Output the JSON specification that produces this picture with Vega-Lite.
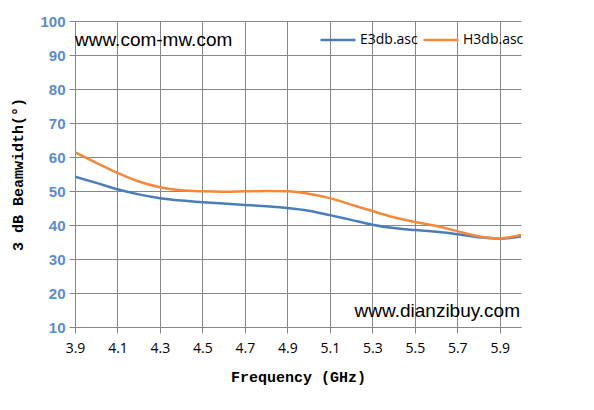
{
  "$schema": "https://vega.github.io/schema/vega-lite/v6.json",
  "width": 446,
  "height": 306,
  "autosize": {"type": "none"},
  "padding": {"left": 75, "top": 21, "right": 73, "bottom": 83},
  "background": "white",
  "config": {
    "view": {"stroke": null},
    "axis": {"gridColor": "#868686", "gridOpacity": 1, "gridWidth": 1, "domainColor": "#868686", "tickColor": "#868686", "labelOverlap": false, "labelFlush": false}
  },
  "encoding": {
    "x": {
      "field": "f", "type": "quantitative",
      "scale": {"domain": [3.9, 6.0], "nice": false, "zero": false},
      "axis": {
        "values": [3.9, 4.1, 4.3, 4.5, 4.7, 4.9, 5.1, 5.3, 5.5, 5.7, 5.9],
        "format": ".1f",
        "title": "Frequency (GHz)",
        "titleFont": "Liberation Mono", "titleFontSize": 15, "titleFontWeight": "bold", "titleColor": "#000000",
        "titlePadding": 14,
        "labelFont": "Open Sans", "labelFontSize": 14, "labelColor": "#000000", "labelPadding": 8,
        "tickSize": 6, "domain": true, "grid": true
      }
    },
    "y": {
      "field": "v", "type": "quantitative",
      "scale": {"domain": [10, 100], "nice": false, "zero": false},
      "axis": {
        "values": [10, 20, 30, 40, 50, 60, 70, 80, 90, 100],
        "title": "3 dB Beamwidth(°)",
        "titleFont": "Liberation Mono", "titleFontSize": 15, "titleFontWeight": "bold", "titleColor": "#000000",
        "titlePadding": 14,
        "labelFont": "Liberation Sans", "labelFontSize": 15, "labelFontWeight": "bold", "labelColor": "#5b8bd0", "labelPadding": 4,
        "tickSize": 6, "domain": false, "grid": true
      }
    }
  },
  "layer": [
    {
      "data": {"values": [
        {"f": 3.9, "s": "E3db.asc", "v": 54.2},
        {"f": 4.0, "s": "E3db.asc", "v": 52.4},
        {"f": 4.1, "s": "E3db.asc", "v": 50.5},
        {"f": 4.2, "s": "E3db.asc", "v": 49.0},
        {"f": 4.3, "s": "E3db.asc", "v": 47.9},
        {"f": 4.4, "s": "E3db.asc", "v": 47.2},
        {"f": 4.5, "s": "E3db.asc", "v": 46.7},
        {"f": 4.6, "s": "E3db.asc", "v": 46.3},
        {"f": 4.7, "s": "E3db.asc", "v": 45.9},
        {"f": 4.8, "s": "E3db.asc", "v": 45.5},
        {"f": 4.9, "s": "E3db.asc", "v": 45.0},
        {"f": 5.0, "s": "E3db.asc", "v": 44.2},
        {"f": 5.1, "s": "E3db.asc", "v": 42.9},
        {"f": 5.2, "s": "E3db.asc", "v": 41.5},
        {"f": 5.3, "s": "E3db.asc", "v": 40.1},
        {"f": 5.4, "s": "E3db.asc", "v": 39.1},
        {"f": 5.5, "s": "E3db.asc", "v": 38.5},
        {"f": 5.6, "s": "E3db.asc", "v": 38.0},
        {"f": 5.7, "s": "E3db.asc", "v": 37.3},
        {"f": 5.8, "s": "E3db.asc", "v": 36.4},
        {"f": 5.9, "s": "E3db.asc", "v": 36.0},
        {"f": 6.0, "s": "E3db.asc", "v": 36.6},
        {"f": 3.9, "s": "H3db.asc", "v": 61.4},
        {"f": 4.0, "s": "H3db.asc", "v": 58.3},
        {"f": 4.1, "s": "H3db.asc", "v": 55.3},
        {"f": 4.2, "s": "H3db.asc", "v": 52.8},
        {"f": 4.3, "s": "H3db.asc", "v": 51.1},
        {"f": 4.4, "s": "H3db.asc", "v": 50.2},
        {"f": 4.5, "s": "H3db.asc", "v": 49.9},
        {"f": 4.6, "s": "H3db.asc", "v": 49.8},
        {"f": 4.7, "s": "H3db.asc", "v": 49.9},
        {"f": 4.8, "s": "H3db.asc", "v": 50.0},
        {"f": 4.9, "s": "H3db.asc", "v": 49.9},
        {"f": 5.0, "s": "H3db.asc", "v": 49.2},
        {"f": 5.1, "s": "H3db.asc", "v": 47.9},
        {"f": 5.2, "s": "H3db.asc", "v": 46.0},
        {"f": 5.3, "s": "H3db.asc", "v": 44.1},
        {"f": 5.4, "s": "H3db.asc", "v": 42.3},
        {"f": 5.5, "s": "H3db.asc", "v": 40.9},
        {"f": 5.6, "s": "H3db.asc", "v": 39.7},
        {"f": 5.7, "s": "H3db.asc", "v": 38.2},
        {"f": 5.8, "s": "H3db.asc", "v": 36.7},
        {"f": 5.9, "s": "H3db.asc", "v": 36.1},
        {"f": 6.0, "s": "H3db.asc", "v": 37.1}
      ]},
      "mark": {"type": "line", "interpolate": "monotone", "strokeWidth": 2.5, "clip": true},
      "encoding": {
        "color": {
          "field": "s", "type": "nominal",
          "scale": {"domain": ["E3db.asc", "H3db.asc"], "range": ["#4a7ebb", "#f5883a"]},
          "legend": {
            "title": null, "orient": "none", "direction": "horizontal",
            "legendX": 244, "legendY": 0,
            "symbolType": "stroke", "symbolSize": 1225, "symbolStrokeWidth": 2.5,
            "labelFont": "Open Sans", "labelFontSize": 14, "labelColor": "#000000",
            "labelOffset": 3, "columnPadding": 0, "symbolOffset": 0
          }
        }
      }
    },
    {
      "data": {"values": [
        {"f": 3.9, "v": 94.4, "t": "www.com-mw.com"}
      ]},
      "mark": {"type": "text", "font": "Liberation Sans", "fontSize": 19, "color": "#000000", "baseline": "middle", "align": "left"},
      "encoding": {
        "text": {"field": "t"}
      }
    },
    {
      "data": {"values": [
        {"f": 6.0, "v": 14.7, "t": "www.dianzibuy.com"}
      ]},
      "mark": {"type": "text", "font": "Liberation Sans", "fontSize": 19, "color": "#000000", "baseline": "middle", "align": "right", "dx": -1},
      "encoding": {
        "text": {"field": "t"}
      }
    }
  ]
}
